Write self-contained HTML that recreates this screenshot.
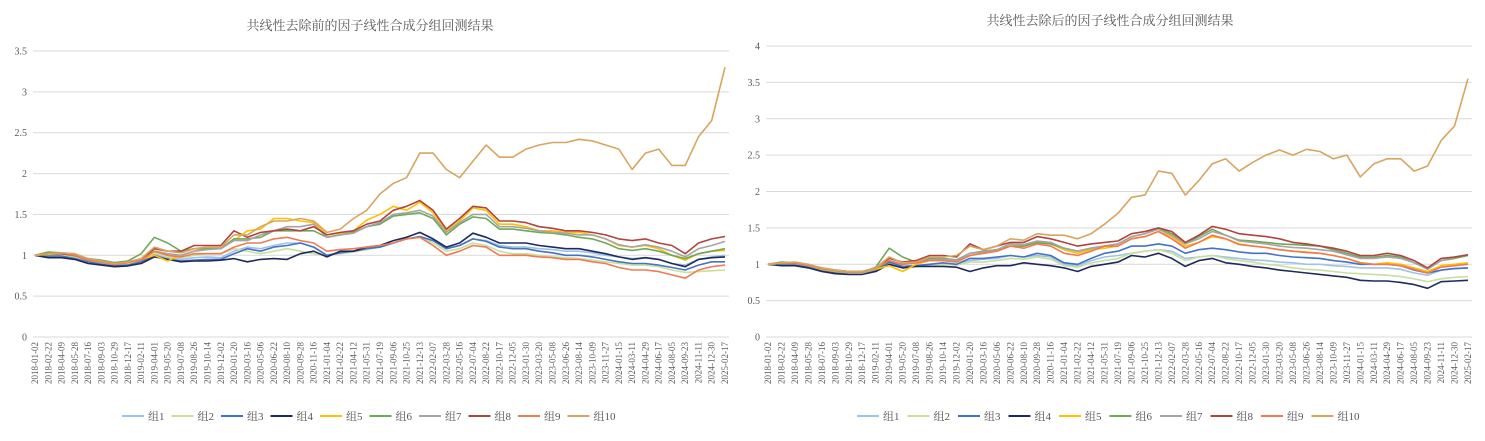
<!DOCTYPE html>
<html><head><meta charset="utf-8">
<style>
html,body{margin:0;padding:0;background:#fff;}
svg{display:block;font-family:"Liberation Serif","Noto Serif CJK SC",serif;}
</style></head>
<body>
<svg id="root" width="1485" height="441" viewBox="0 0 1485 441">
<text x="370" y="30" text-anchor="middle" font-size="13" fill="#595959">共线性去除前的因子线性合成分组回测结果</text>
<text x="1110" y="25" text-anchor="middle" font-size="13" fill="#595959">共线性去除后的因子线性合成分组回测结果</text>
<g id="left"></g>
<g id="right"></g>
</svg>
<script>
const dateLabels = ["2018-01-02","2018-02-22","2018-04-09","2018-05-28","2018-07-16","2018-09-03","2018-10-29","2018-12-17","2019-02-11","2019-04-01","2019-05-20","2019-07-08","2019-08-26","2019-10-14","2019-12-02","2020-01-20","2020-03-16","2020-05-06","2020-06-22","2020-08-10","2020-09-28","2020-11-16","2021-01-04","2021-02-22","2021-04-12","2021-05-31","2021-07-19","2021-09-06","2021-10-25","2021-12-13","2022-02-07","2022-03-28","2022-05-16","2022-07-04","2022-08-22","2022-10-17","2022-12-05","2023-01-30","2023-03-20","2023-05-08","2023-06-26","2023-08-14","2023-10-09","2023-11-27","2024-01-15","2024-03-11","2024-04-29","2024-06-17","2024-08-05","2024-09-23","2024-11-11","2024-12-30","2025-02-17"];
const seriesNames = ["组1","组2","组3","组4","组5","组6","组7","组8","组9","组10"];
const seriesColors = ["#9DC3E6","#C9DF9E","#4472C4","#1F2A5C","#FFC000","#6FA85A","#A5A5A5","#B0443F","#F07A52","#D8A55E"];
const leftTicks = [0,0.5,1,1.5,2,2.5,3,3.5];
const rightTicks = [0,0.5,1,1.5,2,2.5,3,3.5,4];

const g1A=[1.0,0.99,1.0,0.97,0.93,0.9,0.88,0.89,0.93,1.02,0.97,0.95,0.97,0.98,0.97,1.05,1.1,1.08,1.12,1.15,1.15,1.1,1.0,1.03,1.05,1.08,1.1,1.15,1.2,1.22,1.18,1.08,1.12,1.2,1.18,1.12,1.1,1.1,1.08,1.07,1.05,1.05,1.03,1.0,0.98,0.96,0.97,0.95,0.9,0.88,0.95,0.98,1.0];
const g2A=[1.0,1.0,1.01,0.98,0.93,0.9,0.88,0.9,0.93,1.03,0.98,0.97,1.0,1.02,1.02,1.08,1.05,1.02,1.05,1.08,1.05,1.02,1.0,1.02,1.04,1.07,1.1,1.15,1.2,1.22,1.15,1.05,1.08,1.15,1.12,1.05,1.02,1.02,1.0,0.98,0.97,0.96,0.94,0.92,0.9,0.88,0.88,0.86,0.82,0.79,0.8,0.81,0.82];
const g3A=[1.0,0.99,0.99,0.96,0.92,0.89,0.87,0.88,0.92,1.0,0.95,0.93,0.94,0.95,0.95,1.02,1.08,1.05,1.1,1.12,1.15,1.1,1.0,1.03,1.05,1.08,1.1,1.15,1.2,1.23,1.18,1.08,1.12,1.2,1.17,1.1,1.08,1.08,1.05,1.03,1.0,1.0,0.98,0.95,0.92,0.9,0.9,0.88,0.85,0.82,0.88,0.92,0.92];
const g4A=[1.0,0.97,0.97,0.95,0.9,0.88,0.86,0.87,0.9,0.98,0.95,0.92,0.93,0.93,0.94,0.96,0.92,0.95,0.96,0.95,1.02,1.05,0.98,1.05,1.05,1.1,1.12,1.18,1.22,1.28,1.2,1.1,1.15,1.27,1.22,1.15,1.15,1.15,1.12,1.1,1.08,1.08,1.05,1.02,0.98,0.95,0.97,0.95,0.9,0.86,0.95,0.97,0.98];
const g5A=[1.0,1.01,1.02,0.99,0.94,0.91,0.89,0.91,0.95,1.0,0.93,1.0,1.05,1.08,1.1,1.18,1.3,1.32,1.45,1.45,1.42,1.4,1.25,1.27,1.3,1.43,1.5,1.6,1.55,1.65,1.52,1.3,1.42,1.58,1.55,1.38,1.38,1.35,1.3,1.3,1.28,1.28,1.25,1.2,1.12,1.1,1.12,1.08,1.0,0.94,1.02,1.05,1.06];
const g6A=[1.0,1.04,1.03,1.0,0.96,0.94,0.91,0.93,1.02,1.22,1.15,1.05,1.08,1.08,1.08,1.2,1.2,1.22,1.3,1.3,1.3,1.3,1.22,1.25,1.28,1.35,1.38,1.48,1.5,1.52,1.45,1.25,1.38,1.47,1.45,1.32,1.32,1.3,1.28,1.27,1.25,1.22,1.2,1.15,1.08,1.06,1.08,1.05,1.0,0.96,1.02,1.05,1.08];
const g7A=[1.0,1.02,1.02,0.99,0.94,0.91,0.89,0.91,0.95,1.05,1.02,1.0,1.05,1.07,1.08,1.18,1.18,1.25,1.3,1.35,1.35,1.38,1.22,1.25,1.27,1.35,1.4,1.5,1.52,1.55,1.48,1.28,1.4,1.5,1.5,1.35,1.35,1.33,1.3,1.28,1.27,1.25,1.25,1.2,1.13,1.1,1.13,1.1,1.05,0.98,1.08,1.12,1.17];
const g8A=[1.0,1.02,1.02,1.0,0.95,0.92,0.9,0.92,0.95,1.08,1.05,1.05,1.12,1.12,1.12,1.3,1.22,1.28,1.3,1.32,1.3,1.35,1.25,1.28,1.3,1.38,1.42,1.55,1.6,1.67,1.55,1.32,1.45,1.6,1.58,1.42,1.42,1.4,1.35,1.33,1.3,1.3,1.28,1.25,1.2,1.18,1.2,1.15,1.12,1.02,1.15,1.2,1.23];
const g9A=[1.0,1.02,1.03,1.0,0.94,0.92,0.89,0.91,0.94,1.05,1.0,0.98,1.02,1.02,1.02,1.1,1.15,1.15,1.2,1.22,1.18,1.15,1.05,1.07,1.08,1.1,1.12,1.15,1.2,1.22,1.12,1.0,1.05,1.12,1.1,1.0,1.0,1.0,0.98,0.97,0.95,0.95,0.92,0.9,0.85,0.82,0.82,0.8,0.76,0.72,0.82,0.86,0.88];
const g10A=[1.0,1.02,1.03,1.02,0.96,0.93,0.9,0.92,0.96,1.1,1.05,1.03,1.08,1.1,1.1,1.25,1.25,1.35,1.42,1.42,1.45,1.42,1.28,1.32,1.45,1.55,1.75,1.88,1.95,2.25,2.25,2.05,1.95,2.15,2.35,2.2,2.2,2.3,2.35,2.38,2.38,2.42,2.4,2.35,2.3,2.05,2.25,2.3,2.1,2.1,2.45,2.65,3.3];

const g1B=[1.0,1.0,1.0,0.97,0.92,0.9,0.88,0.88,0.92,1.03,0.97,0.98,1.0,1.0,0.99,1.05,1.07,1.08,1.12,1.1,1.12,1.1,1.0,0.98,1.05,1.1,1.12,1.15,1.18,1.2,1.18,1.08,1.1,1.12,1.1,1.08,1.06,1.05,1.03,1.02,1.0,1.0,0.98,0.97,0.95,0.95,0.95,0.93,0.88,0.85,0.92,0.94,0.95];
const g2B=[1.0,0.99,0.99,0.96,0.91,0.88,0.87,0.87,0.91,1.02,0.96,0.97,0.99,1.0,0.99,1.03,1.03,1.05,1.08,1.07,1.1,1.07,0.98,0.96,1.02,1.05,1.08,1.15,1.18,1.2,1.15,1.05,1.1,1.12,1.08,1.05,1.03,1.0,0.98,0.95,0.93,0.92,0.9,0.88,0.87,0.86,0.85,0.83,0.8,0.76,0.8,0.82,0.83];
const g3B=[1.0,1.0,1.0,0.97,0.92,0.89,0.87,0.87,0.92,1.03,0.97,0.98,1.0,1.02,1.0,1.08,1.08,1.1,1.12,1.1,1.15,1.12,1.02,1.0,1.08,1.15,1.18,1.25,1.25,1.28,1.25,1.15,1.2,1.22,1.2,1.17,1.15,1.15,1.12,1.1,1.09,1.08,1.05,1.03,1.0,1.0,1.0,0.98,0.92,0.88,0.92,0.94,0.95];
const g4B=[1.0,0.98,0.98,0.95,0.9,0.87,0.86,0.86,0.9,1.0,0.95,0.97,0.97,0.97,0.96,0.9,0.95,0.98,0.98,1.02,1.0,0.98,0.95,0.9,0.97,1.0,1.03,1.12,1.1,1.15,1.08,0.97,1.05,1.08,1.02,1.0,0.97,0.95,0.92,0.9,0.88,0.86,0.84,0.82,0.78,0.77,0.77,0.75,0.72,0.67,0.76,0.77,0.78];
const g5B=[1.0,1.01,1.01,0.98,0.93,0.9,0.88,0.88,0.93,0.98,0.9,1.0,1.05,1.06,1.04,1.12,1.15,1.18,1.25,1.25,1.3,1.28,1.2,1.15,1.2,1.22,1.25,1.35,1.38,1.45,1.38,1.25,1.3,1.38,1.35,1.28,1.25,1.23,1.2,1.18,1.17,1.15,1.12,1.08,1.02,1.0,1.02,1.0,0.95,0.9,0.98,1.0,1.02];
const g6B=[1.0,1.03,1.02,0.98,0.94,0.91,0.89,0.89,0.96,1.22,1.1,1.03,1.08,1.08,1.06,1.15,1.18,1.2,1.25,1.25,1.3,1.28,1.22,1.18,1.22,1.25,1.28,1.38,1.42,1.5,1.42,1.28,1.38,1.48,1.4,1.33,1.32,1.3,1.28,1.27,1.26,1.25,1.2,1.15,1.1,1.1,1.12,1.1,1.02,0.95,1.05,1.08,1.12];
const g7B=[1.0,1.01,1.01,0.98,0.94,0.91,0.88,0.88,0.94,1.05,1.0,1.02,1.06,1.07,1.05,1.15,1.17,1.2,1.28,1.27,1.32,1.3,1.22,1.18,1.22,1.25,1.28,1.38,1.42,1.48,1.4,1.28,1.35,1.45,1.4,1.32,1.3,1.28,1.25,1.23,1.22,1.2,1.18,1.13,1.08,1.08,1.1,1.08,1.02,0.93,1.05,1.1,1.13];
const g8B=[1.0,1.02,1.02,0.99,0.95,0.92,0.9,0.9,0.95,1.08,1.03,1.05,1.12,1.12,1.1,1.28,1.2,1.25,1.3,1.3,1.38,1.35,1.3,1.25,1.28,1.3,1.32,1.42,1.45,1.5,1.45,1.3,1.4,1.52,1.48,1.42,1.4,1.38,1.35,1.3,1.28,1.25,1.22,1.18,1.12,1.12,1.15,1.12,1.05,0.95,1.08,1.1,1.13];
const g9B=[1.0,1.02,1.02,0.99,0.94,0.92,0.9,0.9,0.95,1.05,1.0,1.02,1.05,1.05,1.03,1.12,1.15,1.18,1.25,1.22,1.28,1.25,1.15,1.12,1.18,1.25,1.25,1.35,1.38,1.45,1.35,1.22,1.3,1.4,1.35,1.27,1.25,1.23,1.2,1.18,1.16,1.15,1.12,1.08,1.02,1.0,1.0,0.98,0.93,0.88,0.96,0.98,1.0];
const g10B=[1.0,1.02,1.03,1.0,0.95,0.92,0.9,0.9,0.95,1.1,1.02,1.03,1.1,1.1,1.12,1.25,1.2,1.25,1.35,1.33,1.42,1.4,1.4,1.35,1.42,1.55,1.7,1.92,1.95,2.28,2.25,1.95,2.15,2.38,2.45,2.28,2.4,2.5,2.57,2.5,2.58,2.55,2.45,2.5,2.2,2.38,2.45,2.45,2.28,2.35,2.7,2.9,3.55];

const leftSeries=[g1A,g2A,g3A,g4A,g5A,g6A,g7A,g8A,g9A,g10A];
const rightSeries=[g1B,g2B,g3B,g4B,g5B,g6B,g7B,g8B,g9B,g10B];

const NS="http://www.w3.org/2000/svg";
function mk(tag,attrs,parent){const e=document.createElementNS(NS,tag);for(const k in attrs)e.setAttribute(k,attrs[k]);parent.appendChild(e);return e;}

function drawChart(g,cfg,series,ticks,prefix){
  const {x0,x1,yTop,yBot,vMax,legendX,legendStep}=cfg;
  const yS=v=>yBot-(v/vMax)*(yBot-yTop);
  const xS=i=>x0+(x1-x0)*i/(dateLabels.length-1);
  ticks.forEach(t=>{
    const y=yS(t);
    const ln=mk('line',{x1:x0-2,x2:x1+4,y1:y,y2:y,stroke:'#D9D9D9','stroke-width':1},g);
    
    
    const tx=mk('text',{x:x0-8,y:y+3.5,'text-anchor':'end','font-size':10,fill:'#595959'},g);
    tx.textContent=String(t);
    
    
  });
  dateLabels.forEach((d,i)=>{
    const x=xS(i)+3;
    const tx=mk('text',{x:0,y:0,transform:`translate(${x},${yBot+5}) rotate(-90)`,'text-anchor':'end','font-size':9,fill:'#595959'},g);
    tx.textContent=d;
    
    
  });
  series.forEach((vals,s)=>{
    const pts=vals.map((v,i)=>xS(i).toFixed(1)+','+yS(v).toFixed(1)).join(' ');
    const pl=mk('polyline',{points:pts,fill:'none',stroke:seriesColors[s],'stroke-width':1.6,'stroke-linejoin':'round'},g);
    
    
  });
  seriesNames.forEach((n,s)=>{
    const lx=legendX+s*legendStep;
    const lg=mk('g',{},g);
    
    
    mk('line',{x1:lx,x2:lx+22,y1:416,y2:416,stroke:seriesColors[s],'stroke-width':2},lg);
    const t=mk('text',{x:lx+26,y:420,'font-size':11,fill:'#595959'},lg);
    t.textContent=n;
  });
}
drawChart(document.getElementById('left'),{x0:35,x1:725,yTop:51,yBot:337,vMax:3.5,legendX:122,legendStep:49.5},leftSeries,leftTicks,'left');
drawChart(document.getElementById('right'),{x0:768,x1:1468,yTop:46,yBot:337,vMax:4,legendX:857,legendStep:50.5},rightSeries,rightTicks,'right');
</script>
</body></html>
